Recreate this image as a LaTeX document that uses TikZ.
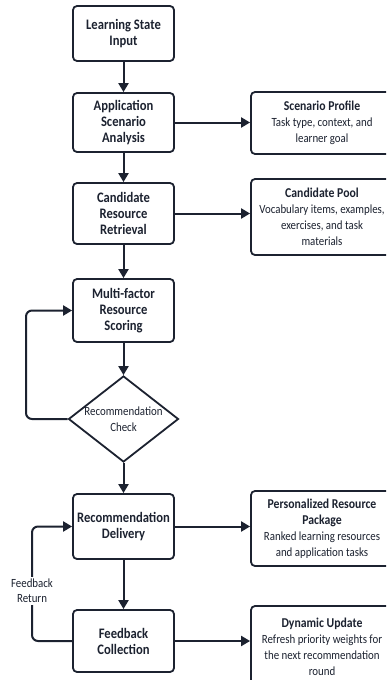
\documentclass[tikz,border=0pt]{standalone}
\usepackage{fontspec}
\setmainfont{Carlito}[FakeStretch=0.87]
\usetikzlibrary{arrows.meta,shapes.geometric}
\definecolor{ink}{HTML}{1C2230}
\tikzset{
  stepbox/.style={draw=ink, line width=1.8pt, rounded corners=4pt, minimum width=101pt,
    align=center, text=ink, font=\bfseries\fontsize{14.5}{16}\selectfont},
  infobox/.style={draw=ink, line width=1.8pt, rounded corners=4pt, minimum width=142pt,
    align=center, text=ink, font=\fontsize{12.5}{16}\selectfont},
  infotitle/.style={font=\bfseries\fontsize{13.5}{16}\selectfont},
  checknode/.style={draw=ink, diamond, line width=1.8pt, minimum width=110pt, minimum height=86pt,
    inner sep=-10pt, align=center, text=ink, font=\fontsize{12.5}{16}\selectfont},
  flow/.style={draw=ink, line width=2pt, -{Triangle[length=9pt,width=10pt]}},
}
\newcommand{\ttl}[1]{{\bfseries\fontsize{13.5}{16}\selectfont #1}}
\begin{document}
\begin{tikzpicture}[x=1pt,y=-1pt]
\clip (0,0) rectangle (386,680);
\fill[white] (0,0) rectangle (386,680);
\node[stepbox, minimum height=55pt] (in) at (123.5,33.5) {Learning State\\Input};
\node[stepbox, minimum height=59pt] (app) at (123.5,122.5) {Application\\Scenario\\Analysis};
\node[stepbox, minimum height=61pt] (ret) at (123.5,213.5) {Candidate\\Resource\\Retrieval};
\node[stepbox, minimum height=63pt] (score) at (123.5,310.5) {Multi-factor\\Resource\\Scoring};
\node[checknode] (check) at (123.5,419) {Recommendation\\Check};
\node[stepbox, minimum height=65pt] (deliv) at (123.5,526.5) {Recommendation\\Delivery};
\node[stepbox, minimum height=62pt] (fb) at (123.5,641) {Feedback\\Collection};
\node[infobox, minimum height=62pt] (prof) at (322,123) {\ttl{Scenario Profile}\\Task type, context, and\\learner goal};
\node[infobox, minimum height=76pt] (pool) at (322,217) {\ttl{Candidate Pool}\\Vocabulary items, examples,\\exercises, and task\\materials};
\node[infobox, minimum height=75pt] (pkg) at (322,528.5) {\ttl{Personalized Resource}\\\ttl{Package}\\Ranked learning resources\\and application tasks};
\node[infobox, minimum height=82pt] (upd) at (322,647) {\ttl{Dynamic Update}\\Refresh priority weights for\\the next recommendation\\round};
\coordinate (loopa) at (26,419);
\coordinate (back) at (32,591);
\draw[flow] (in) -- (app);
\draw[flow] (app) -- (ret);
\draw[flow] (ret) -- (score);
\draw[flow] (score) -- (check);
\draw[flow] (check) -- (deliv);
\draw[flow] (deliv) -- (fb);
\draw[flow] (app.east) -- (app.east -| prof.west);
\draw[flow] (ret.east) -- (ret.east -| pool.west);
\draw[flow] (deliv.east) -- (deliv.east -| pkg.west);
\draw[flow] (fb.east) -- (fb.east -| upd.west);
\draw[flow, rounded corners=6pt] (check.west) -- (loopa) |- (score.west);
\draw[flow, rounded corners=6pt] (fb.west) -| (back) |- (deliv.west);
\node[fill=white, align=center, text=ink, inner sep=2pt, font=\fontsize{12.5}{15}\selectfont] (fbl) at (back) {Feedback\\Return};
\end{tikzpicture}
\end{document}
